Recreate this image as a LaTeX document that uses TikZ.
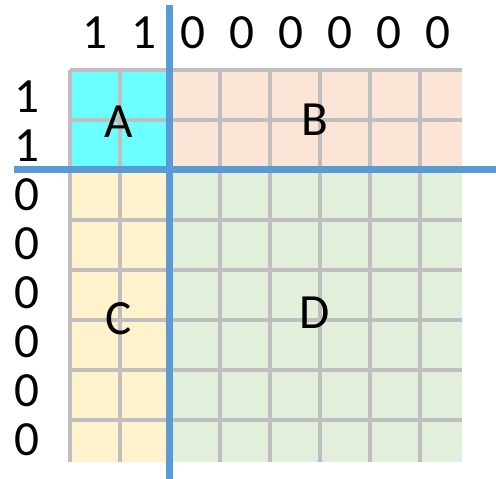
\documentclass[tikz,border=0pt]{standalone}
\usepackage{fontspec}
\setmainfont{Carlito}
\definecolor{cellA}{HTML}{6CFFFF}
\definecolor{cellB}{HTML}{FCE4D6}
\definecolor{cellC}{HTML}{FFF2CC}
\definecolor{cellD}{HTML}{E2EFDA}
\definecolor{gridgray}{HTML}{BFBFBF}
\definecolor{splitblue}{HTML}{5B9BD5}
\begin{document}
\begin{tikzpicture}[x=0.98cm,y=-0.98cm,
  cellgrid/.style={draw=gridgray,line width=1.9pt},
  splitline/.style={draw=splitblue,line width=4pt},
  lbl/.style={font=\fontsize{28}{28}\selectfont,inner sep=0pt}]
  \useasboundingbox (-1.4286,-1.4286) rectangle (8.694,8.347);
  % blocks
  \fill[cellA] (0,0) rectangle (2,2);
  \fill[cellB] (2,0) rectangle (8,2);
  \fill[cellC] (0,2) rectangle (2,8);
  \fill[cellD] (2,2) rectangle (8,8);
  \draw[cellgrid] (0,0) grid (8,8);
  % block names
  \node[lbl] (A) at (1,1.05) {A};
  \node[lbl] (B) at (5,1.02) {B};
  \node[lbl] (C) at (1,5.08) {C};
  \node[lbl] (D) at (5,4.95) {D};
  % vector labels
  \foreach \v [count=\i] in {1,1,0,0,0,0,0,0} {
    \node[lbl] (top\i) at (\i-0.5,-0.755) {\v};
    \node[lbl] (left\i) at (-0.878,\i-0.45) {\v};
  }
  % split lines
  \coordinate (vtop) at (2.04,-1.33);
  \coordinate (vbot) at (2.04,8.347);
  \coordinate (hleft) at (-1.14,2.04);
  \coordinate (hright) at (8.694,2.04);
  \draw[splitline] (vtop) -- (vbot);
  \draw[splitline] (hleft) -- (hright);
\end{tikzpicture}
\end{document}
